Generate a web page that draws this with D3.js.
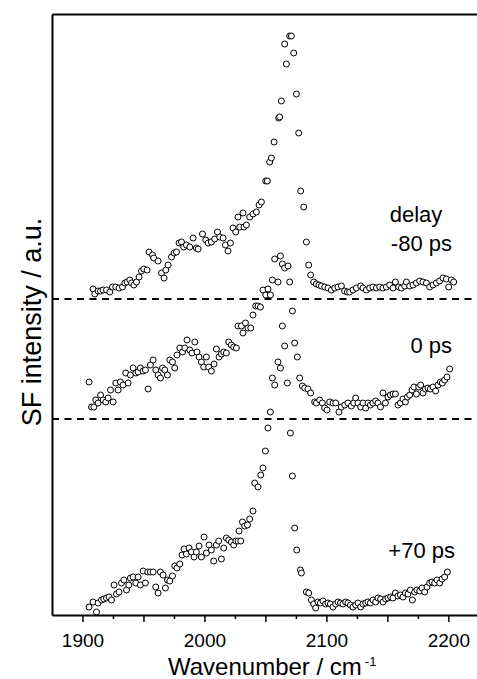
<!DOCTYPE html>
<html><head><meta charset="utf-8">
<script src="https://cdn.jsdelivr.net/npm/d3@7"></script>
<style>
body{margin:0;background:#fff;}
svg{display:block;font-family:"Liberation Sans",Arial,Helvetica,sans-serif;}
</style>
</head><body>
<svg id="chart" width="477" height="679"></svg>
<script>
// ---- data: [wavenumber (cm-1), SF intensity (a.u., offset traces)] ----
const seriesMinus80 = [[1908.7,326],[1910.1,321],[1912.8,324],[1914.8,324],[1916.9,325],[1919.7,325],[1922.4,323],[1924.6,328],[1927.3,328],[1930,327],[1932.8,328],[1934.7,332],[1936.6,333],[1938.8,335],[1940.2,332],[1942.1,330],[1944.3,333],[1946.4,338],[1948.4,344],[1950.2,346],[1953,345],[1954.6,363],[1957.4,360],[1958.4,357],[1962,354],[1964.8,342],[1966.9,337],[1968.3,345],[1970.2,350],[1973,358],[1975.1,362],[1977.1,363],[1979.2,372],[1981.2,373],[1983,368],[1985.2,370],[1988,368],[1990.7,377],[1993.4,367],[1994.8,366],[1998.4,381],[2001.1,375],[2003,372],[2005.7,373],[2008.4,376],[2010.7,383],[2012.5,378],[2015.3,377],[2017.2,370],[2019.3,364],[2021.3,372],[2023.4,387],[2025.7,383],[2027.5,398],[2028.9,388],[2031.6,402],[2032.5,388],[2034.4,390],[2037.1,398],[2039.8,401],[2042.6,403],[2044.8,410],[2046.7,413],[2050.3,434],[2051.6,434],[2053.5,453],[2054.9,457],[2057.1,473],[2060.9,497],[2061.7,498],[2063.1,514],[2065.8,571],[2067.2,551],[2069.9,579],[2071.3,579],[2073.2,562],[2075.4,521],[2077.3,482],[2078.9,424],[2081.4,408],[2083.6,373],[2085.5,350],[2087.1,340],[2089.6,333],[2091.8,331],[2093.9,330],[2095.9,329],[2098.6,328],[2101.3,327],[2104.1,325],[2106.8,327],[2109.5,328],[2112.3,329],[2115,324],[2117.2,323],[2119.1,323],[2121.8,325],[2124.6,327],[2128.1,329],[2130,327],[2132.8,325],[2135.5,327],[2138.2,328],[2141,327],[2143.7,328],[2146.4,327],[2149.2,328],[2151.9,330],[2154.6,327],[2156.6,333],[2159.3,328],[2161.5,327],[2164.2,329],[2165.6,333],[2168.3,329],[2171,330],[2173.8,332],[2176.5,334],[2179.2,333],[2182,332],[2184.7,328],[2187.4,330],[2190.2,332],[2192.9,334],[2195.6,337],[2198.4,336],[2200.3,328],[2202.5,335],[2204.4,333]];

const seriesZero = [[1905.4,233],[1907.4,208],[1909.3,208],[1910.9,215],[1912.8,212],[1914.8,220],[1916.9,215],[1919.1,213],[1921,217],[1923,225],[1925.1,213],[1927.3,232],[1929.2,225],[1931.1,233],[1933.3,230],[1935.5,242],[1937.4,232],[1939.3,240],[1941.5,247],[1943.7,242],[1945.6,243],[1947.5,247],[1949.7,244],[1951.6,245],[1953.8,226],[1955.7,250],[1957.9,255],[1960.1,245],[1962,240],[1963.9,237],[1965.6,247],[1967.5,245],[1969.7,240],[1971.6,255],[1973.8,253],[1975.7,247],[1977.5,260],[1979.8,267],[1982,263],[1983.9,267],[1985.7,275],[1988,265],[1989.8,262],[1992.1,273],[1993.9,263],[1995.6,258],[1997.5,253],[1999.4,248],[2001.6,258],[2003.5,248],[2005.7,244],[2007.9,251],[2009.8,266],[2012,258],[2013.9,261],[2015.8,263],[2018,262],[2019.9,273],[2022.1,270],[2024,268],[2026.2,267],[2027.5,289],[2030.3,289],[2031.6,282],[2033.6,292],[2035.7,287],[2038,287],[2039.8,300],[2042.1,309],[2043.9,309],[2045.9,308],[2048,325],[2050.3,320],[2052.1,326],[2054.1,320],[2055.7,335],[2057.6,356],[2060.3,333],[2062.3,359],[2063.9,351],[2065.8,347],[2068.5,349],[2069.9,333],[2072.1,304],[2074,272],[2076.2,258],[2078.1,237],[2080.3,229],[2082.2,227],[2084.9,226],[2087.1,222],[2090.4,213],[2091.8,212],[2094.5,215],[2096.7,212],[2098.6,207],[2100.5,205],[2102.7,213],[2105.4,212],[2107.6,212],[2110.3,203],[2112.3,208],[2115,210],[2117.7,212],[2120.5,209],[2122.4,212],[2124,217],[2125.9,212],[2128.1,208],[2130,212],[2132.2,207],[2134.1,212],[2136.1,210],[2138.2,212],[2140.4,214],[2142.3,212],[2144.3,208],[2146.4,222],[2148.4,212],[2150.5,218],[2152.5,220],[2154.6,221],[2156.6,221],[2158.7,210],[2160.7,212],[2162.8,216],[2164.8,213],[2166.4,218],[2168.3,220],[2170.2,225],[2171.8,228],[2173.8,221],[2175.7,228],[2177.3,230],[2179.2,222],[2181.2,226],[2183.3,227],[2185.3,226],[2187.4,228],[2189.6,224],[2191.5,230],[2193.5,233],[2195.1,232],[2197,235],[2198.9,238],[2201.1,246]];

const seriesPlus70 = [[1905.4,8],[1908.7,13],[1911.5,3],[1912.8,12],[1915.6,15],[1917.5,16],[1919.7,17],[1921.8,18],[1923.8,15],[1925.9,30],[1927.9,21],[1930,23],[1932,32],[1933.9,35],[1936.1,25],[1938,30],[1939.3,37],[1941.5,38],[1943.7,32],[1945.6,38],[1947.5,30],[1949.7,44],[1951.6,32],[1953.5,43],[1955.7,43],[1957.9,43],[1960.1,28],[1962,22],[1963.9,43],[1966.1,40],[1968,27],[1969.7,35],[1971.6,34],[1973.8,39],[1975.7,49],[1977.5,47],[1979.8,51],[1981.6,60],[1983.3,66],[1985.2,61],[1987.4,67],[1989.3,63],[1991.5,58],[1993.4,63],[1995.6,69],[1997.5,58],[1999.7,78],[2001.6,62],[2003.8,70],[2005.7,65],[2007.6,54],[2009.8,70],[2011.7,74],[2013.9,56],[2015.8,67],[2018,77],[2019.9,75],[2022.1,73],[2024,70],[2025.7,74],[2027.5,74],[2028.4,84],[2029.8,74],[2031.2,93],[2033,89],[2035.3,90],[2037.1,96],[2039.8,104],[2041.2,132],[2043.9,128],[2046.2,140],[2048,147],[2050,164],[2052.1,187],[2054.1,203],[2055.7,237],[2057.6,230],[2060.3,253],[2062.3,247],[2063.9,289],[2065.8,269],[2068,232],[2070.5,182],[2072.1,139],[2074,87],[2075.7,65],[2078.7,45],[2079.5,42],[2083.6,23],[2085.5,22],[2087.7,15],[2089.6,11],[2091.2,7],[2093.1,13],[2095.1,12],[2097.2,14],[2099.4,11],[2101.3,12],[2103.3,11],[2105.4,8],[2107.6,11],[2109.5,13],[2111.5,12],[2113.6,11],[2115.8,13],[2117.7,12],[2119.7,10],[2121.8,8],[2124,10],[2125.9,12],[2128.1,8],[2130,11],[2132.2,12],[2134.1,13],[2136.1,12],[2138.2,15],[2140.4,13],[2142.3,17],[2144.5,16],[2146.4,13],[2148.6,16],[2150.5,17],[2152.7,18],[2154.6,17],[2156.6,22],[2158.7,19],[2160.7,20],[2162.8,18],[2164.8,22],[2166.9,21],[2168.9,25],[2170.5,15],[2172.4,23],[2174.3,25],[2176.5,24],[2178.4,27],[2180.6,23],[2182.5,28],[2184.7,32],[2186.6,33],[2188.8,32],[2190.7,35],[2192.9,32],[2194.8,36],[2197,38],[2199.2,43]];

const dashedLevels = [316, 196];
const xTickValues = [1900, 1925, 1950, 1975, 2000, 2025, 2050, 2075, 2100, 2125, 2150, 2175, 2200];
const xLabelValues = [1900, 2000, 2100, 2200];
const annotationTexts = ["delay", "-80 ps", "0 ps", "+70 ps"];

// ---- layout ----
const mLeft = 52, mRight = 477, mTop = 14, mBottom = 615;
const svg = d3.select("#chart");

const x = d3.scaleLinear().domain([1875, 2223.5]).range([mLeft, mRight]);
const y = d3.scaleLinear().domain([0, 601]).range([mBottom, mTop]);

// dashed reference lines
svg.append("g").selectAll("line").data(dashedLevels).join("line")
  .attr("x1", mLeft).attr("x2", mRight)
  .attr("y1", d => y(d)).attr("y2", d => y(d))
  .attr("stroke", "#000").attr("stroke-width", 2)
  .attr("stroke-dasharray", "7,5.5");

// series markers
[seriesMinus80, seriesZero, seriesPlus70].forEach(s => {
  svg.append("g").selectAll("circle").data(s).join("circle")
    .attr("cx", d => x(d[0])).attr("cy", d => y(d[1]))
    .attr("r", 3)
    .attr("fill", "#fff").attr("stroke", "#000").attr("stroke-width", 1);
});

// axes
const xAxis = d3.axisBottom(x).tickValues(xTickValues).tickSizeOuter(0)
  .tickFormat(d => xLabelValues.includes(d) ? d : "");
const gx = svg.append("g").attr("transform", `translate(0,${mBottom})`).call(xAxis);
gx.select(".domain").attr("stroke-width", 2);
gx.selectAll(".tick line").attr("stroke-width", 1.5)
  .attr("y2", d => d % 50 === 0 ? 7 : 4);
gx.selectAll(".tick text").attr("font-size", 19).attr("font-family", "Liberation Sans, Arial, sans-serif")
  .attr("fill", "#000").attr("y", 0).attr("dy", 32);

const gy = svg.append("g").attr("transform", `translate(${mLeft},0)`)
  .call(d3.axisLeft(y).tickValues([]).tickSizeOuter(0));
gy.select(".domain").attr("stroke-width", 2);

const gt = svg.append("g").attr("transform", `translate(0,${mTop})`)
  .call(d3.axisTop(x).tickValues([]).tickSizeOuter(0));
gt.select(".domain").attr("stroke-width", 2);

// axis titles
const xt = svg.append("text").attr("x", 168).attr("y", 675)
  .attr("font-size", 24).attr("fill", "#000");
xt.append("tspan").text("Wavenumber / cm");
xt.append("tspan").attr("font-size", 13).attr("dx", 3).attr("dy", -9).text("-1");

svg.append("text")
  .attr("transform", `translate(41,322) rotate(-90)`)
  .attr("text-anchor", "middle").attr("font-size", 27).attr("fill", "#000")
  .text("SF intensity / a.u.");

// annotations
svg.append("text").attr("x", 416).attr("y", 222).attr("text-anchor", "middle")
  .attr("font-size", 22).text(annotationTexts[0]);
svg.append("text").attr("x", 452).attr("y", 251).attr("text-anchor", "end")
  .attr("font-size", 22).text(annotationTexts[1]);
svg.append("text").attr("x", 452).attr("y", 353).attr("text-anchor", "end")
  .attr("font-size", 22).text(annotationTexts[2]);
svg.append("text").attr("x", 455).attr("y", 558).attr("text-anchor", "end")
  .attr("font-size", 22).text(annotationTexts[3]);
</script>
</body></html>
